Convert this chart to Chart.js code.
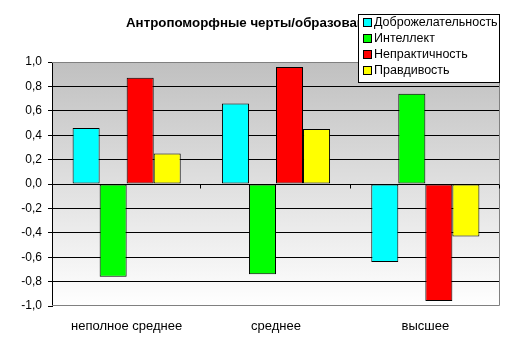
<!DOCTYPE html>
<html>
<head>
<meta charset="utf-8">
<script src="https://cdn.jsdelivr.net/npm/chart.js@4/dist/chart.umd.min.js"></script>
<style>
  html, body { margin: 0; padding: 0; background: #fff; }
  #wrap { width: 505px; height: 345px; }
</style>
</head>
<body>
<div id="wrap"><canvas id="chart"></canvas></div>
<script>
const categories = ["неполное среднее", "среднее", "высшее"];
const seriesNames = ["Доброжелательность", "Интеллект", "Непрактичность", "Правдивость"];
const seriesColors = ["#00FFFF", "#00FF00", "#FF0000", "#FFFF00"];
const dobro = [0.46, 0.66, -0.64];
const intellekt = [-0.76, -0.74, 0.74];
const nepraktichnost = [0.87, 0.96, -0.96];
const pravdivost = [0.25, 0.45, -0.43];
const titleText = "Антропоморфные черты/образование";

const FONT = "'Liberation Sans', Arial, sans-serif";
const values = [dobro, intellekt, nepraktichnost, pravdivost];

// plot background, border, zero-line ticks, title and legend
const decor = {
  id: "decor",
  beforeDraw(chart) {
    const { ctx, chartArea: a } = chart;
    const g = ctx.createLinearGradient(0, a.top, 0, a.bottom);
    g.addColorStop(0, "#C0C0C0");
    g.addColorStop(1, "#FFFFFF");
    ctx.save();
    ctx.fillStyle = g;
    ctx.fillRect(a.left, a.top, a.right - a.left, a.bottom - a.top);
    ctx.restore();
  },
  afterDatasetsDraw(chart) {
    const { ctx, chartArea: a, scales } = chart;
    ctx.save();
    ctx.strokeStyle = "#808080";
    ctx.lineWidth = 1;
    ctx.beginPath();
    ctx.moveTo(a.left, a.top + 0.5);
    ctx.lineTo(a.right - 0.5, a.top + 0.5);
    ctx.lineTo(a.right - 0.5, a.bottom - 0.5);
    ctx.lineTo(a.left, a.bottom - 0.5);
    ctx.stroke();
    // category ticks on zero line
    const y0 = Math.round(scales.y.getPixelForValue(0)) + 0.5;
    const step = (a.right - a.left) / categories.length;
    ctx.strokeStyle = "#000";
    ctx.beginPath();
    for (let i = 1; i <= categories.length; i++) {
      const x = Math.round(a.left + step * i) - 0.5;
      ctx.moveTo(x, y0);
      ctx.lineTo(x, y0 + 4);
    }
    ctx.stroke();
    ctx.restore();
  },
  afterDraw(chart) {
    const ctx = chart.ctx;
    ctx.save();
    ctx.fillStyle = "#000";
    ctx.font = "bold 13.3px " + FONT;
    ctx.textBaseline = "middle";
    ctx.fillText(titleText, 126, 23);

    // legend box
    ctx.fillStyle = "#fff";
    ctx.fillRect(358, 14, 141, 68);
    ctx.strokeStyle = "#000";
    ctx.lineWidth = 1;
    ctx.strokeRect(358.5, 14.5, 141, 68);
    ctx.font = "12.5px " + FONT;
    chart.data.datasets.forEach((ds, i) => {
      const cy = 23 + i * 16;
      ctx.fillStyle = ds.backgroundColor;
      ctx.fillRect(364, cy - 4, 7, 7);
      ctx.strokeRect(363.5, cy - 4.5, 8, 8);
      ctx.fillStyle = "#000";
      ctx.fillText(ds.label, 374, cy);
    });
    ctx.restore();
  },
};

new Chart(document.getElementById("chart"), {
  type: "bar",
  data: {
    labels: categories,
    datasets: seriesNames.map((name, i) => ({
      label: name,
      data: values[i],
      backgroundColor: seriesColors[i],
      borderColor: "#000",
      borderWidth: 1,
      borderSkipped: false,
      categoryPercentage: 0.724,
      barPercentage: 1.0,
    })),
  },
  options: {
    responsive: true,
    maintainAspectRatio: false,
    animation: false,
    layout: { padding: { top: 62, right: 5, left: 0, bottom: 0 } },
    plugins: {
      legend: { display: false },
      title: { display: false },
      tooltip: { enabled: false },
    },
    scales: {
      x: {
        grid: { display: false, drawTicks: false },
        border: { display: false },
        ticks: { color: "#000", font: { family: FONT, size: 13 }, padding: 13 },
        afterFit(scale) { scale.height = 39; },
      },
      y: {
        min: -1,
        max: 1,
        ticks: {
          stepSize: 0.2,
          color: "#000",
          padding: 6,
          font: { family: FONT, size: 12 },
          callback: (v) => (Math.abs(v) < 1e-9 ? 0 : v).toFixed(1).replace(".", ","),
        },
        grid: {
          color: (c) => (Math.abs(c.tick.value) > 0.999 ? "rgba(0,0,0,0)" : "#000"),
          tickColor: "#000",
          tickLength: 4,
        },
        border: { color: "#000" },
        afterFit(scale) { scale.width = 52; },
      },
    },
  },
  plugins: [decor],
});
</script>
</body>
</html>
